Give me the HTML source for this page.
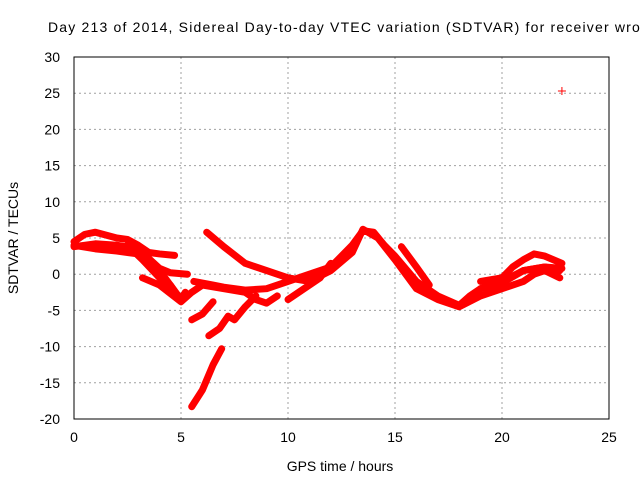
<!DOCTYPE html>
<html><head><meta charset="utf-8"><style>
body{margin:0;background:#fff;}
svg{display:block;font-family:"Liberation Sans",sans-serif;}
</style></head><body>
<svg id="chart" width="640" height="480" viewBox="0 0 640 480">
<text x="48" y="32" font-size="14" textLength="600" lengthAdjust="spacing" fill="#000">Day 213 of 2014, Sidereal Day-to-day VTEC variation (SDTVAR) for receiver wroc</text>
<g id="grid"></g>
<g id="axes"></g>
<g id="series"></g>
<text x="340" y="471" font-size="14" text-anchor="middle">GPS time / hours</text>
<text transform="translate(18,238) rotate(-90)" font-size="14" text-anchor="middle">SDTVAR / TECUs</text>
</svg>
<script>
const xTicks=[0,5,10,15,20,25];
const yTicks=[-20,-15,-10,-5,0,5,10,15,20,25,30];
const trace1=[[0,4.5],[0.5,5.5],[1,5.8],[2,5],[2.5,4.8],[3,4],[3.5,3],[4,2.8],[4.7,2.6]];
const trace2=[[0,4],[1,3.5],[2,3.2],[3,2.8],[4,0.5],[5,-3.5],[5.2,-2.5]];
const trace3=[[0,3.8],[1,4.2],[2,4],[3,3.5],[4,0.8],[4.5,0.2],[5.3,0]];
const trace4=[[2.5,4],[3.2,2],[4,-0.5],[4.5,-1.5],[4.9,-3.2]];
const trace5=[[3.2,-0.5],[4,-1.5],[5,-3.8],[5.5,-2.5],[6,-1.5],[7,-2],[8,-2.5],[8.5,-3.5],[9,-4],[9.5,-3]];
const trace6=[[5.6,-1],[6.5,-1.5],[7,-1.8],[8,-2.2],[9,-2],[10,-1],[11,0],[12,1],[13,4],[13.5,6],[14,5.8],[14.5,4],[15,2.5],[16,-1],[17,-3],[18,-4.3],[18.5,-3],[19,-2],[20,-1.2],[21,0.5],[22,1],[22.8,0.8]];
const trace7=[[6.2,5.8],[7,3.8],[8,1.5],[9,0.5],[10,-0.5],[11,-1],[12,0.5],[13,3],[13.5,6.2],[14.2,5],[15,2],[16,-2],[17,-3.5],[18,-4.5],[19,-3],[20,-2],[21,-1],[21.5,0],[22,0.5],[22.7,-0.5]];
const trace8=[[5.5,-6.3],[6,-5.5],[6.5,-3.8]];
const trace9=[[6.3,-8.5],[6.8,-7.5],[7.2,-5.8],[7.5,-6.3],[8,-4.5],[8.5,-3]];
const trace10=[[5.5,-18.3],[6,-16],[6.5,-12.5],[6.9,-10.3]];
const trace11=[[10,-3.5],[11,-1.5],[11.5,-0.5],[12,1.5]];
const trace12=[[19,-1],[20,-0.5],[20.5,1],[21,2],[21.5,2.8],[22,2.5],[22.8,1.5]];
const trace13=[[19,-2],[20,-1],[21,0.5],[22,1],[22.7,0.5]];
const trace14=[[15.3,3.8],[16,1],[16.6,-1.5]];
const outliers=[[22.8,25.3]];
const traces=[trace1,trace2,trace3,trace4,trace5,trace6,trace7,trace8,trace9,trace10,trace11,trace12,trace13,trace14];

const L=74,R=609,T=57,B=419,NS="http://www.w3.org/2000/svg";
const xs=v=>L+(v-0)/(25-0)*(R-L);
const ys=v=>B-(v+20)/(50)*(B-T);
function mk(tag,attrs,parent){const e=document.createElementNS(NS,tag);for(const k in attrs)e.setAttribute(k,attrs[k]);parent.appendChild(e);return e;}
const grid=document.getElementById('grid'),axes=document.getElementById('axes'),ser=document.getElementById('series');
xTicks.forEach(t=>{
  const x=xs(t);
  if(t>0&&t<25){const g=mk('line',{x1:x,x2:x,y1:T,y2:B,stroke:'#a0a0a0','stroke-dasharray':'2,3'},grid);
  
  }
  const tk=mk('text',{x:x,y:B+23,'font-size':14,'text-anchor':'middle'},axes);tk.textContent=t;
  
  
});
yTicks.forEach(t=>{
  const y=ys(t);
  if(t>-20&&t<30){const g=mk('line',{x1:L,x2:R,y1:y,y2:y,stroke:'#a0a0a0','stroke-dasharray':'2,3'},grid);
  
  }
  const tk=mk('text',{x:L-14,y:y+5,'font-size':14,'text-anchor':'end'},axes);tk.textContent=t;
  
  
});
const fr=mk('rect',{x:L,y:T,width:R-L,height:B-T,fill:'none',stroke:'#000'},axes);


traces.forEach((tr,i)=>{
  const p=mk('polyline',{points:tr.map(d=>xs(d[0])+','+ys(d[1])).join(' '),fill:'none',stroke:'#ff0000','stroke-width':7,'stroke-linejoin':'round','stroke-linecap':'round'},ser);
  
  
});
outliers.forEach(d=>{
  const x=xs(d[0]),y=ys(d[1]);
  const p=mk('path',{d:`M${x-4},${y}H${x+4}M${x},${y-4}V${y+4}`,stroke:'#ff0000','stroke-width':1},ser);
  
  
});
</script>
</body></html>
